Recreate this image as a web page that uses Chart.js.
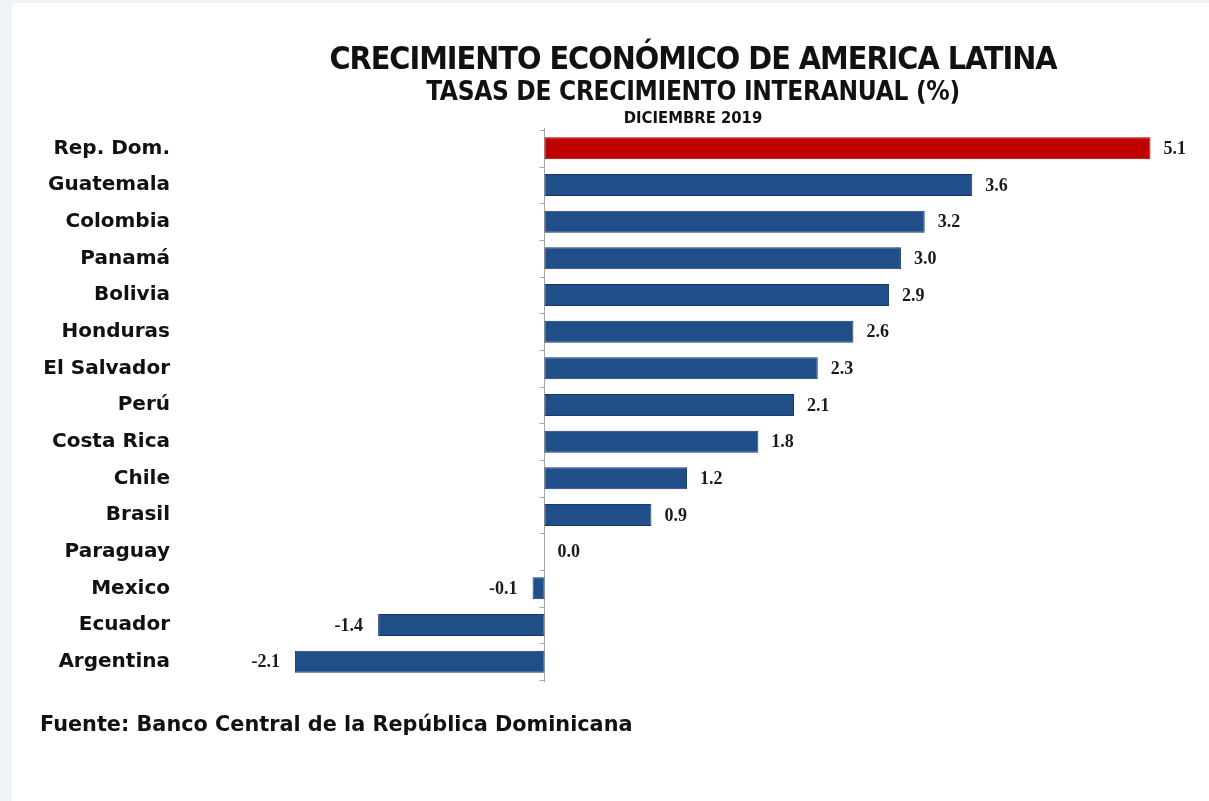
<!DOCTYPE html>
<html lang="es">
<head>
<meta charset="utf-8">
<title>Crecimiento económico de America Latina</title>
<script src="https://cdn.jsdelivr.net/npm/chart.js@4.4.1/dist/chart.umd.min.js"></script>
<style>
    html, body { margin: 0; padding: 0; background: #eef2f9; }
    #wrap { position: relative; width: 1209px; height: 801px; overflow: hidden; }
    #panel { position: absolute; left: 12px; top: 3px; right: 0; bottom: 0; background: #ffffff; }
    #growth_chart { position: absolute; left: 0; top: 0; }
</style>
</head>
<body>
<div id="wrap">
    <div id="panel"></div>
    <canvas id="growth_chart" width="1209" height="801"></canvas>
</div>
<script>
const countries = ["Rep. Dom.", "Guatemala", "Colombia", "Panamá", "Bolivia", "Honduras", "El Salvador",
    "Perú", "Costa Rica", "Chile", "Brasil", "Paraguay", "Mexico", "Ecuador", "Argentina"];
const growthRates = [5.1, 3.6, 3.2, 3.0, 2.9, 2.6, 2.3, 2.1, 1.8, 1.2, 0.9, 0.0, -0.1, -1.4, -2.1];
const highlighted = ["Rep. Dom."];

const TITLE_FONT = "'Liberation Sans Narrow', 'DejaVu Sans Condensed', sans-serif";
const titleLines = [
    { text: "CRECIMIENTO ECONÓMICO DE AMERICA LATINA", font: `bold 32px ${TITLE_FONT}`, spacing: "-1px", y: 69 },
    { text: "TASAS DE CRECIMIENTO INTERANUAL (%)", font: `bold 26px ${TITLE_FONT}`, spacing: "-0.3px", y: 100 },
    { text: "DICIEMBRE 2019", font: `bold 16.5px ${TITLE_FONT}`, spacing: "0px", y: 123 },
];
const sourceNote = "Fuente: Banco Central de la República Dominicana";

const BLUE = "#1f4e89", BLUE_EDGE = "#16396a";
const RED = "#c00000", RED_EDGE = "#9e0000";

// titles above the plot and the source note below it
const headingPlugin = {
    id: "headings",
    afterDraw(chart) {
        const { ctx, chartArea } = chart;
        const cx = (chartArea.left + chartArea.right) / 2;
        ctx.save();
        ctx.fillStyle = "#111";
        ctx.textAlign = "center";
        ctx.textBaseline = "alphabetic";
        for (const line of titleLines) {
            ctx.font = line.font;
            ctx.letterSpacing = line.spacing;
            ctx.fillText(line.text, cx, line.y);
        }
        ctx.letterSpacing = "0px";
        ctx.textAlign = "left";
        ctx.font = "bold 20.8px 'DejaVu Sans', sans-serif";
        ctx.fillText(sourceNote, 40, 731);
        ctx.restore();
    }
};

// vertical axis at zero with small ticks between the categories
const zeroAxisPlugin = {
    id: "zeroAxis",
    beforeDatasetsDraw(chart) {
        const { ctx, scales: { x, y } } = chart;
        const x0 = Math.round(x.getPixelForValue(0)) + 0.5;
        const step = y.getPixelForValue(1) - y.getPixelForValue(0);
        const top = y.getPixelForValue(0) - step / 2;
        const bottom = y.getPixelForValue(countries.length - 1) + step / 2;
        ctx.save();
        ctx.strokeStyle = "#a6a6a6";
        ctx.lineWidth = 1;
        ctx.beginPath();
        ctx.moveTo(x0, top - 2);
        ctx.lineTo(x0, bottom + 2);
        for (let i = 0; i <= countries.length; i++) {
            const ty = Math.round(top + i * step) + 0.5;
            ctx.moveTo(x0 - 5, ty);
            ctx.lineTo(x0, ty);
        }
        ctx.stroke();
        ctx.restore();
    }
};

// value printed at the end of each bar
const valueLabelPlugin = {
    id: "valueLabels",
    afterDatasetsDraw(chart) {
        const { ctx } = chart;
        const meta = chart.getDatasetMeta(0);
        const values = chart.data.datasets[0].data;
        ctx.save();
        ctx.font = "bold 18px 'Liberation Serif', 'Times New Roman', serif";
        ctx.fillStyle = "#1a1a1a";
        ctx.textBaseline = "middle";
        meta.data.forEach((bar, i) => {
            const v = values[i];
            if (v < 0) {
                ctx.textAlign = "right";
                ctx.fillText(v.toFixed(1), bar.x - 15, bar.y + 1);
            } else {
                ctx.textAlign = "left";
                ctx.fillText(v.toFixed(1), bar.x + 13, bar.y + 1);
            }
        });
        ctx.restore();
    }
};

const isHighlighted = (name) => highlighted.includes(name);

new Chart(document.getElementById("growth_chart"), {
    type: "bar",
    data: {
        labels: countries,
        datasets: [{
            data: growthRates,
            backgroundColor: countries.map((c) => isHighlighted(c) ? RED : BLUE),
            borderColor: countries.map((c) => isHighlighted(c) ? RED_EDGE : BLUE_EDGE),
            borderWidth: 1,
            borderSkipped: false,
            barPercentage: 0.6,
            categoryPercentage: 1.0,
        }]
    },
    options: {
        indexAxis: "y",
        responsive: false,
        animation: false,
        layout: { padding: { top: 130, bottom: 121, left: 0, right: 11 } },
        plugins: {
            legend: { display: false },
            tooltip: { enabled: false },
        },
        scales: {
            x: {
                display: false,
                min: -3,
                max: 5.5,
            },
            y: {
                grid: { display: false, drawTicks: false },
                border: { display: false },
                ticks: {
                    color: "#111",
                    padding: 18,
                    font: { family: "'DejaVu Sans', sans-serif", size: 20, weight: "bold" },
                },
                afterFit(scale) {
                    scale.width = 188;
                },
            },
        },
    },
    plugins: [zeroAxisPlugin, valueLabelPlugin, headingPlugin],
});
</script>
</body>
</html>
